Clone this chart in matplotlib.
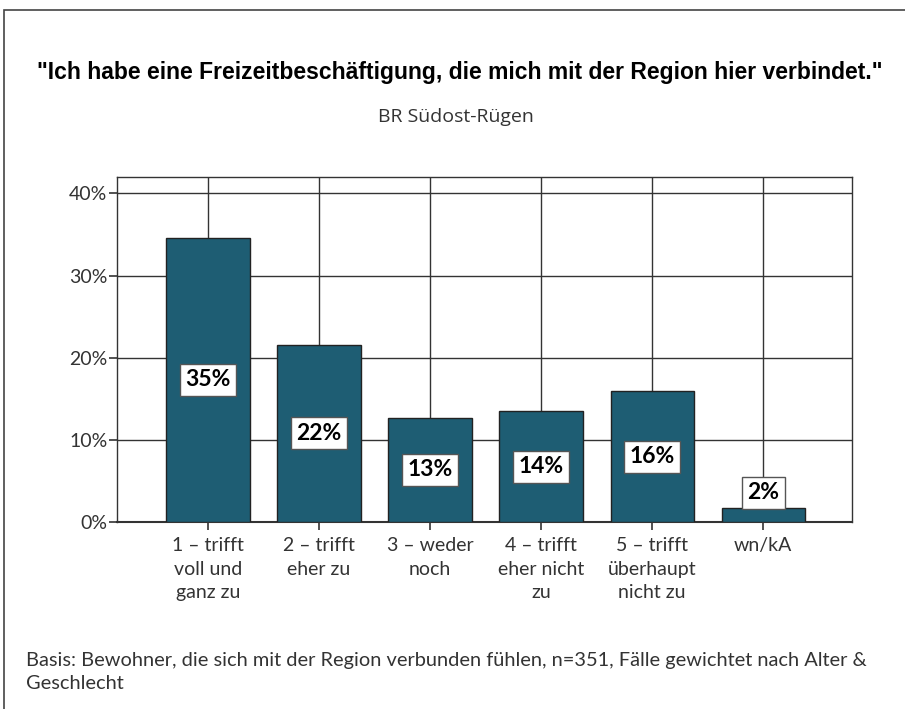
import matplotlib
matplotlib.use("Agg")
import matplotlib.pyplot as plt
from matplotlib.patches import Rectangle

categories = ["1 – trifft\nvoll und\nganz zu", "2 – trifft\neher zu", "3 – weder\nnoch",
              "4 – trifft\neher nicht\nzu", "5 – trifft\nüberhaupt\nnicht zu", "wn/kA"]
values = [34.6, 21.6, 12.7, 13.5, 15.9, 1.7]
labels = ["35%", "22%", "13%", "14%", "16%", "2%"]
yticks = [0, 10, 20, 30, 40]

W, H = 905, 709
fig = plt.figure(figsize=(W/100, H/100), dpi=100)
fig.patch.set_facecolor("white")

# outer frame
fig.add_artist(Rectangle((4/W, -0.1), 1.2, 1 - 10/H + 0.1, transform=fig.transFigure,
                         fill=False, edgecolor="#444444", linewidth=1.2))

ax = fig.add_axes([117/W, 1 - 522/H, (852-117)/W, (522-177)/H])
x = list(range(len(categories)))
ax.set_axisbelow(True)
ax.grid(True, color="#333333", linewidth=1.0)
ax.bar(x, values, width=0.75, color="#1e5d73", edgecolor="#222222", linewidth=1.0, zorder=3)
ax.set_xlim(-0.82, 5.8)
ax.set_ylim(0, 42)
ax.set_yticks(yticks)
ax.set_yticklabels([f"{v}%" for v in yticks], fontfamily="Lato", fontsize=14, color="#333333")
ax.set_xticks(x)
ax.set_xticklabels(categories, fontfamily="Lato", fontsize=14, color="#333333", linespacing=1.45, va="top")
ax.tick_params(axis="both", direction="out", length=6, width=1.2, color="#333333")
ax.tick_params(axis="x", pad=5)
ax.tick_params(axis="y", pad=1)
for s in ax.spines.values():
    s.set_color("#333333")
    s.set_linewidth(1.0)
ax.spines["bottom"].set_linewidth(1.5)

for xi, v, lab in zip(x, values, labels):
    if v > 8:
        y = v / 2
        va = "center"
    else:
        y = v + 0.6
        va = "bottom"
    ax.text(xi, y, lab, ha="center", va=va, fontfamily="Lato", fontweight="bold", fontsize=16.5,
            color="black", zorder=5,
            bbox=dict(boxstyle="square,pad=0.24", facecolor="white", edgecolor="#555555", linewidth=1.0))

fig.text(460/W, 1 - 72/H,
         "\"Ich habe eine Freizeitbeschäftigung, die mich mit der Region hier verbindet.\"",
         ha="center", va="center", fontfamily="Liberation Sans", fontweight="bold", fontsize=16.5, color="black")
fig.text(456/W, 1 - 117/H, "BR Südost-Rügen", ha="center", va="center",
         fontfamily="Open Sans", fontsize=14, color="#333333")
fig.text(26/W, 1 - 652/H,
         "Basis: Bewohner, die sich mit der Region verbunden fühlen, n=351, Fälle gewichtet nach Alter &\nGeschlecht",
         ha="left", va="top", fontfamily="Lato", fontsize=14.4, color="#333333", linespacing=1.4)

fig.savefig("out.png", dpi=100)
